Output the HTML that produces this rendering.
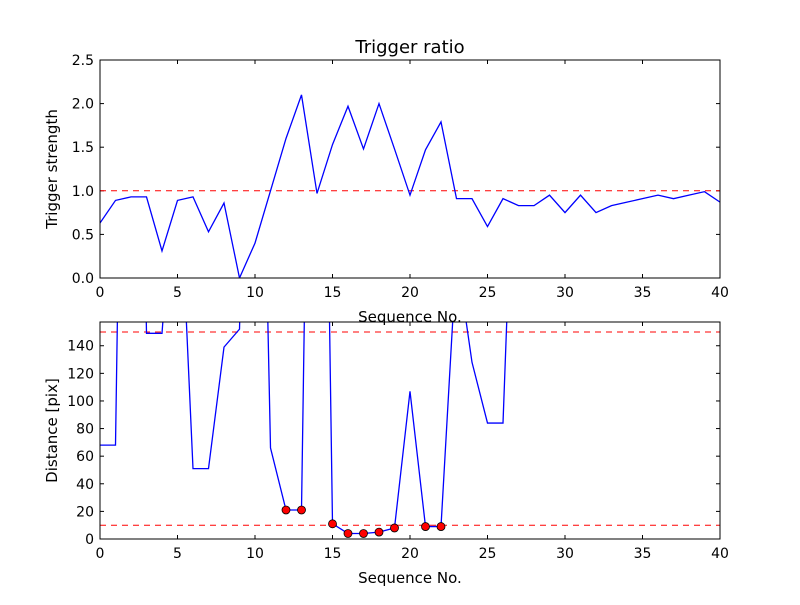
<!DOCTYPE html>
<html><head><meta charset="utf-8"><style>
body{margin:0;background:#fff;}
svg text{font-family:"DejaVu Sans","Liberation Sans",sans-serif;fill:#000;}
</style></head><body>
<svg id="chart" width="800" height="600" xmlns="http://www.w3.org/2000/svg">
<rect width="800" height="600" fill="#fff"/>
<defs><clipPath id="clipB"><rect x="100" y="322" width="620" height="217"/></clipPath>
<clipPath id="clipT"><rect x="100" y="60" width="620" height="218"/></clipPath></defs>
<g id="top"></g><g id="bot"></g>
</svg>
<script>
const seqX = [0,1,2,3,4,5,6,7,8,9,10,11,12,13,14,15,16,17,18,19,20,21,22,23,24,25,26,27,28,29,30,31,32,33,34,35,36,37,38,39,40];
const strength = [0.63,0.89,0.93,0.93,0.31,0.89,0.93,0.53,0.86,0,0.40,1.0,1.6,2.1,0.97,1.53,1.97,1.48,2.0,1.48,0.95,1.47,1.79,0.91,0.91,0.59,0.91,0.83,0.83,0.95,0.75,0.95,0.75,0.83,0.87,0.91,0.95,0.91,0.95,0.99,0.87];
const distance = [68,68,810,149,149,300,51,51,139,152,600,66,21,21,776,11,4,4,5,8,107,9,9,206,128,84,84,388,400,400,400,400,400,400,400,400,400,400,400,400,400];
const xTicks = [0,5,10,15,20,25,30,35,40];
const yTicksTop = [0.0,0.5,1.0,1.5,2.0,2.5];
const yTicksBot = [0,20,40,60,80,100,120,140];
const thresholdTop = 1.0;
const thresholdsBot = [10,150];
const markerLimit = 30;

const NS="http://www.w3.org/2000/svg";
function mk(tag,attrs,parent,txt){const e=document.createElementNS(NS,tag);for(const k in attrs)e.setAttribute(k,attrs[k]);if(txt!==undefined)e.textContent=txt;parent.appendChild(e);return e;}
const L=100,R=720;
const sx=v=>L+(v-0)/(40-0)*(R-L);
function axes(g,top,bot,ymin,ymax,yt,fmt,ylabel,name){
  const sy=v=>bot-(v-ymin)/(ymax-ymin)*(bot-top);
  xTicks.forEach(t=>{
    const a=mk('line',{x1:sx(t),x2:sx(t),y1:bot,y2:bot-4,stroke:'#000'},g);
    
    mk('line',{x1:sx(t),x2:sx(t),y1:top,y2:top+4,stroke:'#000'},g);
    const tx=mk('text',{x:sx(t),y:bot+19,'text-anchor':'middle','font-size':'14'},g,String(t));
    
  });
  yt.forEach(t=>{
    mk('line',{x1:L,x2:L+4,y1:sy(t),y2:sy(t),stroke:'#000'},g);
    mk('line',{x1:R,x2:R-4,y1:sy(t),y2:sy(t),stroke:'#000'},g);
    const tx=mk('text',{x:L-6,y:sy(t)+5,'text-anchor':'end','font-size':'14'},g,fmt(t));
    
  });
  const xl=mk('text',{x:410,y:bot+44,'text-anchor':'middle','font-size':'15'},g,'Sequence No.');
  
  const cy=(top+bot)/2;
  const yl=mk('text',{x:57,y:cy,'text-anchor':'middle','font-size':'15',transform:`rotate(-90 57 ${cy})`},g,ylabel);
  
  return sy;
}
// top
const gt=document.getElementById('top');
const syT=axes(gt,60,278,0,2.5,yTicksTop,v=>v.toFixed(1),'Trigger strength');
const tl=mk('text',{x:410,y:53,'text-anchor':'middle','font-size':'18'},gt,'Trigger ratio');

const th=mk('line',{x1:L,x2:R,y1:syT(thresholdTop),y2:syT(thresholdTop),stroke:'#f00','stroke-dasharray':'6,5'},gt);

const pt=mk('polyline',{points:seqX.map((x,i)=>sx(x)+','+syT(strength[i])).join(' '),fill:'none',stroke:'#00f','stroke-width':'1.3','clip-path':'url(#clipT)'},gt);

const ft=mk('rect',{x:L,y:60,width:R-L,height:218,fill:'none',stroke:'#000'},gt);

// bottom
const gb=document.getElementById('bot');
const syB=axes(gb,322,539,0,157.2,yTicksBot,v=>String(v),'Distance [pix]');
thresholdsBot.forEach(t=>{
  const l=mk('line',{x1:L,x2:R,y1:syB(t),y2:syB(t),stroke:'#f00','stroke-dasharray':'6,5'},gb);
  
});
const pb=mk('polyline',{points:seqX.map((x,i)=>sx(x)+','+syB(distance[i])).join(' '),fill:'none',stroke:'#00f','stroke-width':'1.3','clip-path':'url(#clipB)'},gb);

seqX.forEach((x,i)=>{
  if(distance[i]<markerLimit){
    const c=mk('circle',{cx:sx(x),cy:syB(distance[i]),r:4,fill:'#f00',stroke:'#000','stroke-width':'0.8'},gb);
    
  }
});
const fb=mk('rect',{x:L,y:322,width:R-L,height:217,fill:'none',stroke:'#000'},gb);

</script>
</body></html>
